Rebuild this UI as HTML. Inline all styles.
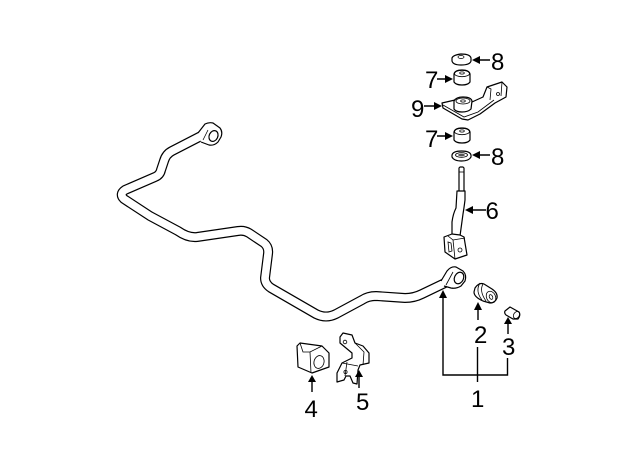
<!DOCTYPE html>
<html><head><meta charset="utf-8"><style>
html,body{margin:0;padding:0;background:#fff}
svg{display:block}
text{font-family:"Liberation Sans",sans-serif;font-size:24px;fill:#000}
.w{fill:#fff;stroke:#000;stroke-width:1.2;stroke-linejoin:round}
.t{fill:none;stroke:#000;stroke-width:.8}
.a{fill:none;stroke:#000;stroke-width:1.4}
</style></head><body>
<svg width="640" height="471" viewBox="0 0 640 471" xmlns="http://www.w3.org/2000/svg">
<!-- stabilizer bar -->
<g fill="none" stroke-linejoin="round" stroke-linecap="round">
<path d="M205 134L172 151Q166 154 164 161L161 170Q160 175 155 177L125 190Q119 194 124 199L150 216L178 231Q188 238 197 237L238 231Q244 230 249 233L264 243Q269 247 268 254L265 278Q265 284 271 288L316 314Q326 319 336 314L362 300Q368 296 376 296L405 298Q414 298 422 294L447 282" stroke="#000" stroke-width="10"/>
<path d="M205 134L172 151Q166 154 164 161L161 170Q160 175 155 177L125 190Q119 194 124 199L150 216L178 231Q188 238 197 237L238 231Q244 230 249 233L264 243Q269 247 268 254L265 278Q265 284 271 288L316 314Q326 319 336 314L362 300Q368 296 376 296L405 298Q414 298 422 294L447 282" stroke="#fff" stroke-width="7.600"/>
</g>
<!-- left eye -->
<path class="w" d="M198 133L205 124Q209 122 213 123L220 128Q223 132 221 137L218 142Q214 146 209 145L201 142" />
<ellipse class="w" cx="213.500" cy="136" rx="4.300" ry="5.600" transform="rotate(25 213.500 136)"/>
<path class="t" d="M203 140L208 130"/>
<!-- right eye -->
<path class="w" d="M441 281L447 271Q451 266 456 267L463 271Q467 275 465 281L461 286Q456 289 451 288L444 286"/>
<ellipse class="w" cx="459" cy="278" rx="4.500" ry="6" transform="rotate(25 459 278)"/>
<path class="t" d="M446 285L453 272"/>
<!-- 8 top washer -->
<path class="w" d="M452 58Q453 55 461 54Q470 54 471 58L471 61Q470 65 461 65Q453 65 452 61Z"/>
<ellipse class="t" cx="461" cy="57" rx="3" ry="1.500"/>
<!-- 7 top -->
<path class="w" d="M454 74Q455 70 462 70Q469 70 470 74L470 82Q468 85 462 85Q456 85 454 82Z"/>
<ellipse class="t" cx="462" cy="73.500" rx="7.500" ry="3.200"/>
<ellipse class="t" cx="462" cy="73" rx="2.300" ry="1.100"/>
<!-- 9 bracket -->
<path class="w" d="M442 103L455 100L472 102L483 97L487 87L502 82L507 87L506 97L495 103L480 114L468 120L462 119L443 108Z"/>
<path class="t" d="M443 105L464 117L478 112L494 100M487 87L491 89L490 100M502 82L501 96"/>
<circle class="t" cx="498" cy="94" r="1.500"/>
<path class="w" d="M454 101Q456 97 463 97Q471 97 472 101L471 109Q468 112 462 112Q456 112 454 109Z"/>
<ellipse class="t" cx="463" cy="101" rx="7" ry="3"/>
<ellipse class="t" cx="463" cy="101" rx="2.300" ry="1.100"/>
<!-- 7 lower -->
<path class="w" d="M454 132Q455 128 462 128Q469 128 470 132L470 140Q468 143 462 143Q456 143 454 140Z"/>
<ellipse class="t" cx="462" cy="131.500" rx="7.500" ry="3.200"/>
<ellipse class="t" cx="462" cy="131" rx="2.300" ry="1.100"/>
<!-- 8 lower -->
<path class="w" d="M452 155Q453 151 461.500 151Q470 151 471 155L471 157Q469 161 461.500 161Q454 161 452 157Z"/>
<ellipse class="t" cx="461.500" cy="155" rx="6" ry="2.300"/>
<ellipse cx="461.500" cy="155" rx="3.500" ry="1.300" fill="#555" stroke="none"/>
<!-- 6 link -->
<path class="w" d="M459 168L460 167L463 167L464 168L464 192L459 192Z"/>
<path class="t" d="M459 172H464"/>
<path class="w" d="M457 191L465 191L465 200Q464 208 463 214L460 236L452 236L452 222Q453 214 456 208Z"/>
<!-- 6 clevis -->
<path class="w" d="M444 237L452 234L460 235L464 237L467 255L455 259L445 252Z"/>
<path class="t" d="M448 236L453 240L455 259M453 240L465 238M448 242L449 252L452 251L451 243Z"/>
<circle class="t" cx="460" cy="250" r="2"/>
<!-- 2 bushing -->
<path class="w" d="M475 288Q479 282 484 284L492 289Q498 293 497 298Q495 303 490 303L483 301Q474 297 474 292Z"/>
<path class="t" d="M480 283Q475 291 482 300M483 284Q479 291 486 301"/>
<ellipse class="t" cx="491" cy="297" rx="4.500" ry="6" transform="rotate(-25 491 297)"/>
<ellipse class="t" cx="491" cy="297" rx="1.600" ry="2.500" transform="rotate(-25 491 297)"/>
<!-- 3 sleeve -->
<path class="w" d="M505 311L510 307L519 312Q521 315 518 319L513 319L506 315Q504 313 505 311Z"/>
<ellipse class="t" cx="516.500" cy="315" rx="2.800" ry="3.800" transform="rotate(35 516.500 315)"/>
<!-- 4 bushing -->
<path class="w" d="M297 346L300 343L322 346L329 353L329 367L312 373L298 367Z"/>
<path class="t" d="M300 343L303 352L310 352L322 346M310 352L311 373"/>
<ellipse class="t" cx="319" cy="362" rx="5" ry="6.500" transform="rotate(15 319 362)"/>
<!-- 5 bracket -->
<path class="w" d="M340 337L343 333L352 335L355 343L363 346L369 353L369 363L360 365L358 370L357 384L353 383L350 376L346 376L344 380L337 382L337 373L342 363L352 358L352 353L340 343Z"/>
<path class="t" d="M355 343L364 352L363 365M342 363L358 366M347 362L345 376"/>
<circle class="t" cx="345" cy="342" r="1.800"/>
<circle class="t" cx="345.500" cy="372" r="1.600"/>
<!-- leaders -->
<path class="a" d="M443 296V375H507.500V358M477.500 347V382"/>
<path class="a" d="M478 308V320M508 322V334M312 380V392M359 375V388M476 60H490M437 79H448M424 106H437M437 136H448M476 155H490M486 210H472"/>
<g fill="#000">
<path d="M443 290L447 298H439Z"/>
<path d="M478 302L482 310H474Z"/>
<path d="M508 317L512 324H504Z"/>
<path d="M312 375L316 382H308Z"/>
<path d="M359 370L363 377H355Z"/>
<path d="M472 60L480 56V64Z"/>
<path d="M453 79L445 75V83Z"/>
<path d="M442 106L434 102V110Z"/>
<path d="M453 136L445 132V140Z"/>
<path d="M472 155L480 151V159Z"/>
<path d="M465 210L473 206V214Z"/>
</g>
<!-- labels -->
<text x="491" y="70">8</text>
<text x="425" y="88">7</text>
<text x="411" y="117">9</text>
<text x="425" y="147">7</text>
<text x="491" y="165">8</text>
<text x="485.500" y="219">6</text>
<text x="474" y="343">2</text>
<text x="502" y="355">3</text>
<text x="471" y="407">1</text>
<text x="304.500" y="417">4</text>
<text x="356" y="410">5</text>
</svg>
</body></html>
